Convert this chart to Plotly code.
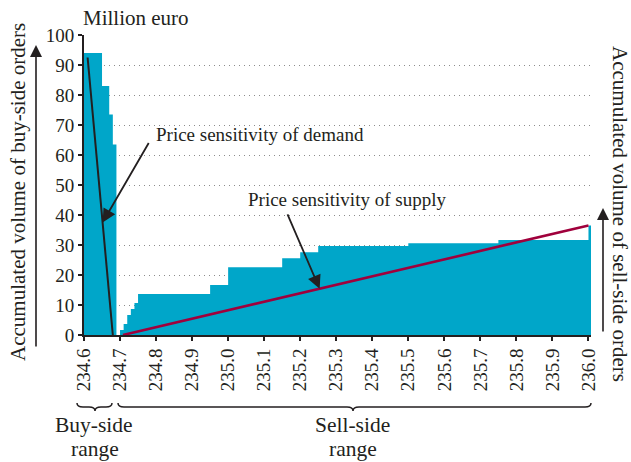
import plotly.graph_objects as go

# ---- data ----
tick_vals = [234.6, 234.7, 234.8, 234.9, 235.0, 235.1, 235.2, 235.3, 235.4, 235.5, 235.6, 235.7, 235.8, 235.9, 236.0]
tick_text = [f"{v:.1f}" for v in tick_vals]

# buy side: step edges (price) and accumulated volume (million euro)
buy_price = [234.60, 234.65, 234.67, 234.68, 234.69]
buy_volume = [94, 83, 73.5, 63.5, 0]

# sell side: step edges (price) and accumulated volume
sell_price = [234.70, 234.71, 234.72, 234.73, 234.74, 234.75, 234.95, 235.00, 235.15,
              235.20, 235.25, 235.50, 235.75, 236.00, 236.007]
sell_volume = [1.7, 3.7, 6.7, 8.7, 10.7, 13.7, 16.7, 22.6, 25.6,
               27.6, 29.7, 30.6, 31.7, 36.5, 36.5]

# price sensitivity lines
demand_price = [234.61, 234.68]
demand_volume = [92.5, 0]
supply_price = [234.708, 236.0]
supply_volume = [0, 36.5]

FONT = "Liberation Serif, Times New Roman, serif"
INK = "#231f20"
FILL = "#00a6c9"
RED = "#a0003c"

fig = go.Figure()
fig.add_trace(go.Scatter(x=buy_price, y=buy_volume, mode="lines", line_shape="hv",
                         line=dict(width=0, color=FILL), fill="tozeroy", fillcolor=FILL,
                         hoverinfo="skip"))
fig.add_trace(go.Scatter(x=sell_price, y=sell_volume, mode="lines", line_shape="hv",
                         line=dict(width=0, color=FILL), fill="tozeroy", fillcolor=FILL,
                         hoverinfo="skip"))
fig.add_trace(go.Scatter(x=demand_price, y=demand_volume, mode="lines",
                         line=dict(width=2, color=INK)))
fig.add_trace(go.Scatter(x=supply_price, y=supply_volume, mode="lines",
                         line=dict(width=2.6, color=RED)))

L, R, T, B = 84, 40, 35, 127
W, H = 631, 462
PW, PH = W - L - R, H - T - B


def px(xp):
    return (xp - L) / PW


def py(yp):
    return (H - B - yp) / PH


def brace(x0, x1, xm, ytop, depth):
    h = depth
    r = 6
    pts = [
        f"M {px(x0)},{py(ytop)}",
        f"Q {px(x0)},{py(ytop + h/2)} {px(x0 + r)},{py(ytop + h/2)}",
        f"L {px(xm - r)},{py(ytop + h/2)}",
        f"Q {px(xm)},{py(ytop + h/2)} {px(xm)},{py(ytop + h)}",
        f"Q {px(xm)},{py(ytop + h/2)} {px(xm + r)},{py(ytop + h/2)}",
        f"L {px(x1 - r)},{py(ytop + h/2)}",
        f"Q {px(x1)},{py(ytop + h/2)} {px(x1)},{py(ytop)}",
    ]
    return dict(type="path", xref="paper", yref="paper", path=" ".join(pts),
                line=dict(color=INK, width=1.5))


fig.update_layout(
    width=W, height=H,
    margin=dict(l=L, r=R, t=T, b=B, autoexpand=False),
    plot_bgcolor="white", paper_bgcolor="white",
    showlegend=False,
    font=dict(family=FONT, size=19, color=INK),
    xaxis=dict(range=[234.6, 236.007], tickmode="array", tickvals=tick_vals, ticktext=tick_text,
               tickangle=-90, ticks="outside", ticklen=4, tickwidth=1.5, tickcolor=INK,
               showline=True, linewidth=2, linecolor=INK, showgrid=False, zeroline=False,
               automargin=False, tickfont=dict(family=FONT, size=19, color=INK)),
    yaxis=dict(range=[0, 100], dtick=10, ticks="outside", ticklen=4, tickwidth=1.5, tickcolor=INK,
               showline=True, linewidth=2, linecolor=INK, showgrid=True, gridcolor="#8c8c8c",
               gridwidth=1, griddash="1px,4px", zeroline=False, automargin=False,
               tickfont=dict(family=FONT, size=19, color=INK)),
    shapes=[brace(77, 112, 95, 403, 8), brace(118, 591, 353, 403, 8)],
)

big = dict(family=FONT, size=21, color=INK)
rng = dict(family=FONT, size=21.5, color=INK)
ann = [
    dict(text="Million euro", xref="paper", yref="paper", x=px(81), y=py(18), font=big,
         xanchor="left", yanchor="middle", showarrow=False),
    dict(text="Accumulated volume of buy-side orders", xref="paper", yref="paper", font=big,
         x=px(18), y=py(192), textangle=-90, showarrow=False, xanchor="center", yanchor="middle"),
    dict(text="Accumulated volume of sell-side orders", xref="paper", yref="paper", font=big,
         x=px(620), y=py(214), textangle=90, showarrow=False, xanchor="center", yanchor="middle"),
    # axis arrows
    dict(text="", xref="paper", yref="paper", x=px(36), y=py(45), ax=0, ay=303,
         showarrow=True, arrowhead=2, arrowsize=1.5, arrowwidth=1.6, arrowcolor=INK),
    dict(text="", xref="paper", yref="paper", x=px(603), y=py(208), ax=0, ay=125,
         showarrow=True, arrowhead=2, arrowsize=1.5, arrowwidth=1.6, arrowcolor=INK),
    # sensitivity labels
    dict(text="Price sensitivity of demand", xref="x", yref="y", x=234.793, y=66.7,
         xanchor="left", yanchor="middle", showarrow=False),
    dict(text="", xref="x", yref="y", x=234.6516, y=37.5, axref="x", ayref="y",
         ax=234.782, ay=64.5, showarrow=True, arrowhead=2, arrowsize=1.5, arrowwidth=1.8,
         arrowcolor=INK, standoff=0),
    dict(text="Price sensitivity of supply", xref="x", yref="y", x=235.049, y=45.1,
         xanchor="left", yanchor="middle", showarrow=False),
    dict(text="", xref="x", yref="y", x=235.254, y=15.4, axref="x", ayref="y",
         ax=235.163, ay=40.7, showarrow=True, arrowhead=2, arrowsize=1.5, arrowwidth=1.8,
         arrowcolor=INK, standoff=0),
    # range labels
    dict(text="Buy-side", xref="paper", yref="paper", x=px(94), y=py(425), font=rng,
         xanchor="center", yanchor="middle", showarrow=False),
    dict(text="range", xref="paper", yref="paper", x=px(95), y=py(449), font=rng,
         xanchor="center", yanchor="middle", showarrow=False),
    dict(text="Sell-side", xref="paper", yref="paper", x=px(352), y=py(425), font=rng,
         xanchor="center", yanchor="middle", showarrow=False),
    dict(text="range", xref="paper", yref="paper", x=px(353), y=py(449), font=rng,
         xanchor="center", yanchor="middle", showarrow=False),
]
fig.update_layout(annotations=ann)

fig.write_html("out.html", config={"displayModeBar": False},
               post_script="document.body.style.margin='0';document.body.style.padding='0';"
                           "document.body.style.overflow='hidden';")
